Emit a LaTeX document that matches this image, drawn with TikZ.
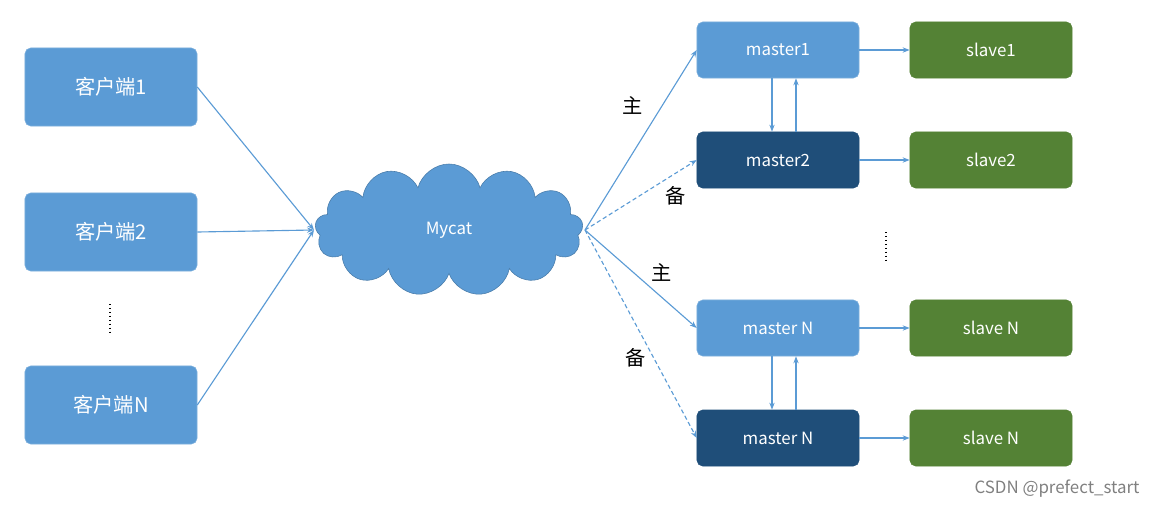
\documentclass[tikz,border=0pt]{standalone}
\usepackage{fontspec}
\setmainfont{Noto Sans CJK SC}
\usetikzlibrary{shapes.symbols,arrows.meta,positioning}
\definecolor{lblue}{HTML}{5B9BD5}
\definecolor{dblue}{HTML}{1F4E79}
\definecolor{dgreen}{HTML}{548235}
\tikzset{
      box/.style = {rounded corners=4pt, draw=lblue!80!white, fill=lblue, text=white, minimum width=4.05cm, minimum height=1.4cm, font=\large},
      client/.style = {box, minimum width=4.3cm, minimum height=1.95cm, font=\Large},
      dark/.style = {box, fill=dblue, draw=dblue},
      slave/.style = {box, fill=dgreen, draw=dgreen},
      link/.style = {lblue, thick, -{Stealth[length=5pt]}},
      backup/.style = {link, densely dashed},
      rolelabel/.style = {font=\Large},
      ellip/.style = {black, thick, dotted},
    }
\begin{document}
\begin{tikzpicture}[x=0.025cm, y=-0.025cm]
        \useasboundingbox (0,0) rectangle (1160,508);
        \node [client] (c1) at (111,87) {客户端1};
        \node [client] (c2) at (111,232) {客户端2};
        \node [client] (cn) at (111,405) {客户端N};
        \draw [ellip] (110,304) -- (110,334);

        \node [cloud, cloud puffs=13, aspect=2.1, fill=lblue, draw=lblue!80!black, text=white,
               minimum width=6.7cm, minimum height=3.3cm, font=\large] (mycat) at (449,230) {Mycat};

        \node [box] (m1) at (778,50) {master1};
        \node [dark] (m2) at (778,160) {master2};
        \node [box] (mn) at (778,328) {master N};
        \node [dark] (mn2) at (778,438) {master N};
        \node [slave] (s1) at (991,50) {slave1};
        \node [slave] (s2) at (991,160) {slave2};
        \node [slave] (sn) at (991,328) {slave N};
        \node [slave] (sn2) at (991,438) {slave N};
        \draw [ellip] (886,232) -- (886,262);

        \coordinate (in) at (314,230);
        \coordinate (out) at (585,230);
        \foreach \c in {c1,c2,cn}
          \draw [link] (\c.east) -- (in);

        \draw [link] (out) -- (m1.west);
        \draw [backup] (out) -- (m2.west);
        \draw [link] (out) -- (mn.west);
        \draw [backup] (out) -- (mn2.west);
        \node [rolelabel] at (633,105) {主};
        \node [rolelabel] at (676,196) {备};
        \node [rolelabel] at (662,272) {主};
        \node [rolelabel] at (636,358) {备};

        \draw [link] ([xshift=-0.15cm]m1.south) -- ([xshift=-0.15cm]m2.north);
        \draw [link] ([xshift=0.45cm]m2.north) -- ([xshift=0.45cm]m1.south);
        \draw [link] ([xshift=-0.15cm]mn.south) -- ([xshift=-0.15cm]mn2.north);
        \draw [link] ([xshift=0.45cm]mn2.north) -- ([xshift=0.45cm]mn.south);

        \draw [link] (m1) -- (s1);
        \draw [link] (m2) -- (s2);
        \draw [link] (mn) -- (sn);
        \draw [link] (mn2) -- (sn2);

        \node [gray, font=\large] at (1057,489) {CSDN @prefect\_start};
\end{tikzpicture}
\end{document}
